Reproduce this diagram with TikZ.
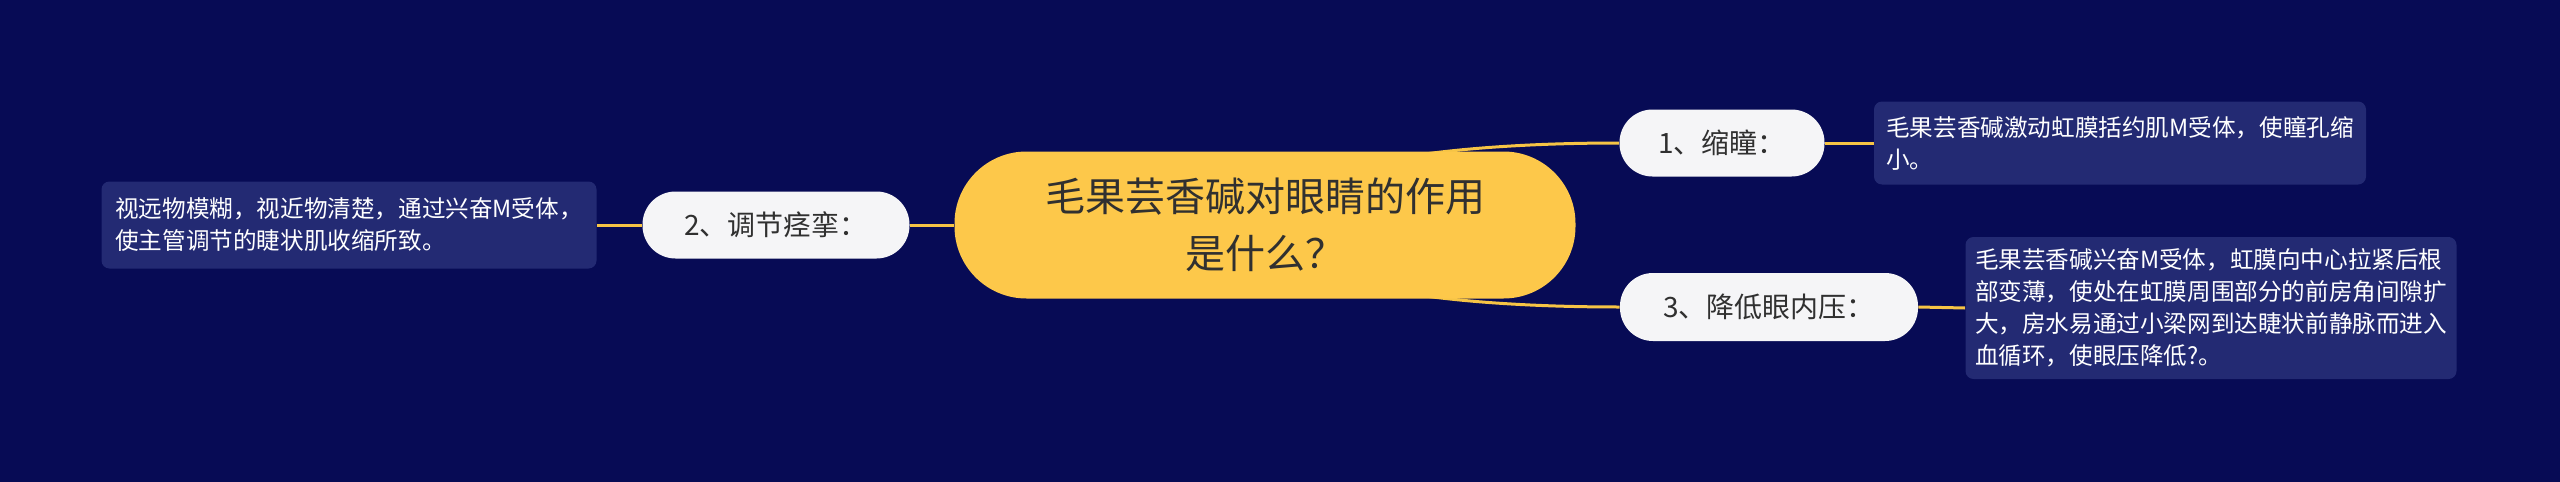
\documentclass[tikz,border=0pt]{standalone}
\usepackage{fontspec}
\setmainfont{Noto Sans CJK SC}

\definecolor{bgblue}{HTML}{070B55}
\definecolor{sunny}{HTML}{FDC84A}
\definecolor{linkyellow}{HTML}{F6C445}
\definecolor{notebox}{HTML}{232A73}
\definecolor{pill}{HTML}{F5F5F7}
\definecolor{ink}{HTML}{303030}

\pgfdeclarelayer{backfill}
\pgfdeclarelayer{links}
\pgfsetlayers{backfill,links,main}

\tikzset{
	centre/.style = {fill = sunny, rounded corners = 36pt, minimum width = 310.5pt, minimum height = 73.5pt, text = ink, font = \fontsize{20}{28.5}\selectfont, align = center, inner sep = 0pt},
	branch/.style = {fill = pill, rounded corners = 16.5pt, minimum height = 33.5pt, text = ink, font = \fontsize{14}{17}\selectfont, inner sep = 0pt},
	note/.style = {fill = notebox, rounded corners = 4pt, text = white, font = \fontsize{11.8}{16}\selectfont, align = left, inner sep = 0pt},
	link/.style = {draw = linkyellow, line width = 1.5pt}
}

\begin{document}
\begin{tikzpicture}[x = 0.5pt, y = -0.5pt]
					\begin{pgfonlayer}{backfill}
						\fill [bgblue] (0, 0) rectangle (2560, 482);
					\end{pgfonlayer}
					\useasboundingbox (0, 0) rectangle (2560, 482);

					\node [centre] (eye) at (1265, 225) {毛果芸香碱对眼睛的作用\\是什么？};

					\node [branch, minimum width = 102.5pt] (miosis) at (1722, 143) {1、缩瞳：};
					\node [branch, minimum width = 133.5pt] (spasm) at (776, 225) {2、调节痉挛：};
					\node [branch, minimum width = 149pt, minimum height = 34pt] (pressure) at (1769, 307) {3、降低眼内压：};

					\node [note, minimum width = 246pt, minimum height = 41.5pt] (miosisnote) at (2120, 143) {毛果芸香碱激动虹膜括约肌M受体，使瞳孔缩\\小。};
					\node [note, minimum width = 247.5pt, minimum height = 43.5pt] (spasmnote) at (349, 225) {视远物模糊，视近物清楚，通过兴奋M受体，\\使主管调节的睫状肌收缩所致。};
					\node [note, minimum width = 245.5pt, minimum height = 71pt] (pressurenote) at (2211, 308) {毛果芸香碱兴奋M受体，虹膜向中心拉紧后根\\部变薄，使处在虹膜周围部分的前房角间隙扩\\大，房水易通过小梁网到达睫状前静脉而进入\\血循环，使眼压降低?。};

					\begin{pgfonlayer}{links}
						\draw [link] ([shift = {(32pt, 25pt)}] eye.center) .. controls (1400, 150) and (1520, 143) .. (miosis.west);
						\draw [link] ([shift = {(32pt, -25pt)}] eye.center) .. controls (1400, 300) and (1520, 307) .. (pressure.west);
						\draw [link] (eye.west) -- (spasm.east);

						\draw [link] (miosis.east) -- (miosisnote.west);
						\draw [link] (spasm.west) -- (spasmnote.east);
						\draw [link] (pressure.east) -- (pressurenote.west);
					\end{pgfonlayer}
\end{tikzpicture}
\end{document}
